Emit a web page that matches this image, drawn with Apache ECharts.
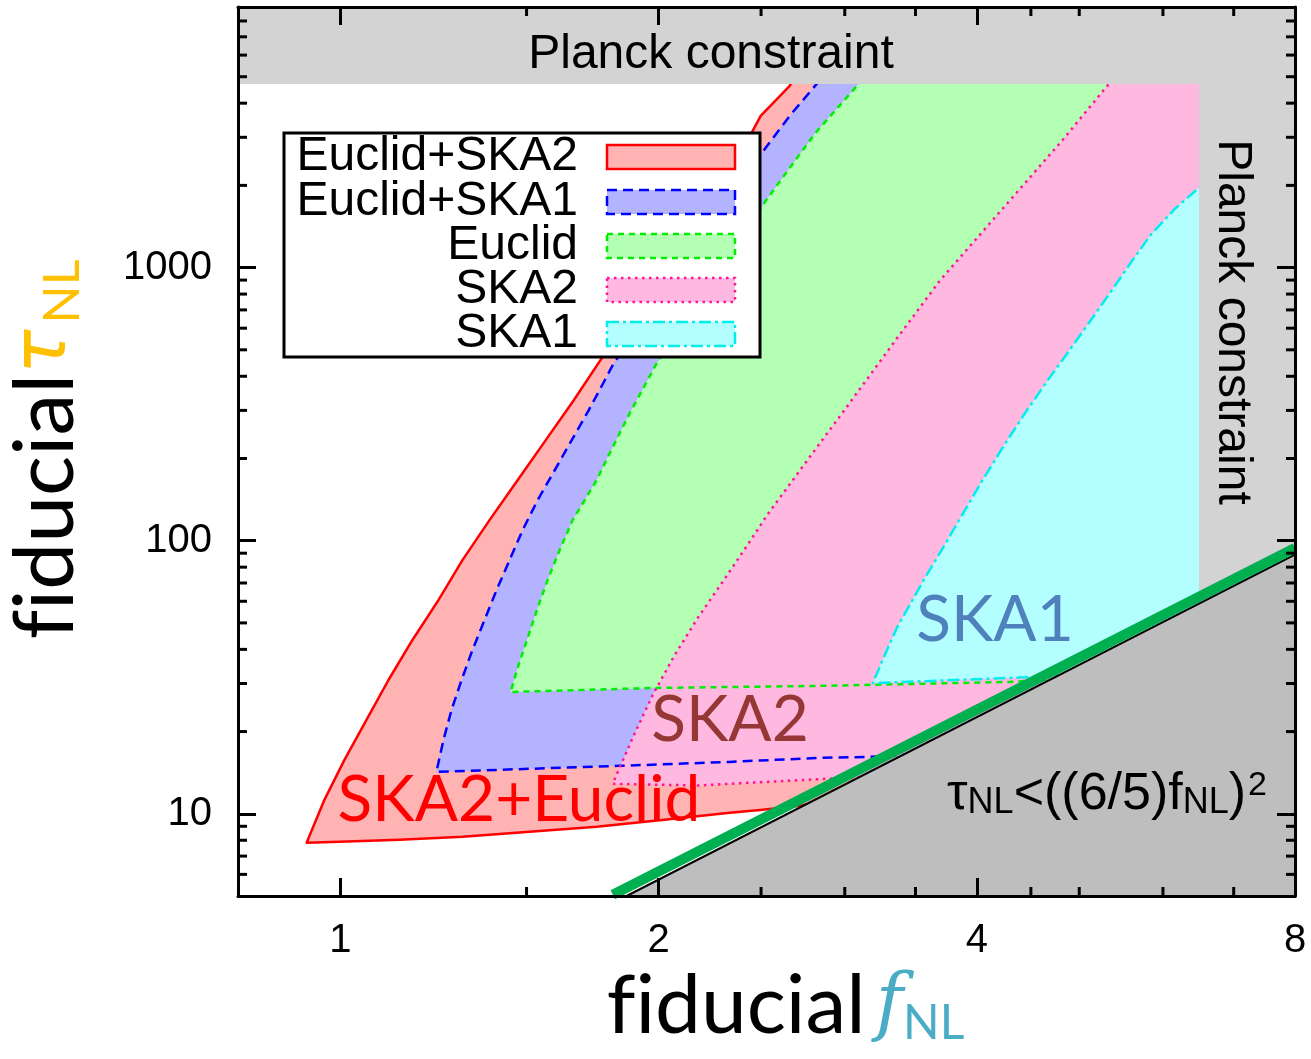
<!DOCTYPE html>
<html><head><meta charset="utf-8">
<script src="https://cdn.jsdelivr.net/npm/echarts@6/dist/echarts.min.js"></script>
<style>html,body{margin:0;padding:0;background:#fff}#c{width:1311px;height:1059px}</style>
</head><body><div id="c"></div>
<script>
// ---------- axis ticks ----------
const fnlMajorTicks = [1, 2, 4, 8];
const fnlMinorTicks = [1.5, 2.5, 3, 3.5, 4.5, 5, 6, 7];
const tauMajorTicks = [10, 100, 1000];
const tauMinorTicks = [6, 7, 8, 9, 20, 30, 40, 50, 60, 70, 80, 90, 200, 300, 400, 500, 600, 700, 800, 900, 2000, 3000, 4000, 5000, 6000, 7000, 8000];

// ---------- regions: [fNL, tauNL] boundary curves (bordered part) ----------
const seriesNames = ['Euclid+SKA2', 'Euclid+SKA1', 'Euclid', 'SKA2', 'SKA1'];
const euclidSka2Edge = [[3.0, 11.4], [2.72, 10.7], [2.509, 10.34], [2.335, 10.08], [2.026, 9.51], [1.747, 8.96], [1.51, 8.6],
  [1.305, 8.24], [1.137, 8.03], [0.998, 7.9], [0.929, 7.83],
  [0.9657, 11.25], [1.0088, 15.75], [1.0584, 22.06], [1.1103, 30.9], [1.1699, 43.3], [1.238, 60.6], [1.3045, 84.9],
  [1.3837, 118.9], [1.4709, 166.4], [1.5634, 233], [1.6618, 326], [1.7664, 465],
  [2.449, 3116], [2.498, 3596], [2.661, 4628], [2.75, 6000]];
const euclidSka1Edge = [[3.6, 16.6], [3.154, 16.16], [2.841, 16.03], [2.335, 15.49], [1.837, 14.98], [1.2326, 14.24],
  [1.2516, 18.65], [1.2737, 24.0], [1.3019, 30.9], [1.3333, 39.8], [1.3686, 51.2], [1.405, 65.9], [1.4454, 84.9],
  [1.4869, 109.2], [1.5364, 140.6], [1.5945, 181], [1.6545, 233], [1.7171, 300], [1.7781, 386], [1.8133, 446],
  [2.5255, 2748], [2.661, 3596], [2.8223, 4709], [2.9, 6000]];
const euclidEdge = [[5.0, 31.5], [4.298, 30.4], [2.841, 29.4], [1.991, 28.9], [1.4486, 27.93],
  [1.4742, 35.1], [1.5066, 45.1], [1.5398, 58.1], [1.5703, 71.7], [1.6118, 92.3], [1.6582, 118.9], [1.702, 140.6],
  [1.747, 166.4], [1.8093, 219.8], [1.8776, 292.6], [1.9358, 364], [1.9913, 446],
  [2.5255, 1758], [2.81, 3090], [3.093, 4709], [3.25, 6000]];
const ska2Edge = [[3.4, 13.8], [3.1, 13.6], [2.841, 13.4], [2.187, 12.7], [1.8093, 12.87],
  [1.8899, 18.96], [1.974, 27.2], [2.0711, 38.1], [2.1775, 52.1], [2.2945, 69.9], [2.4123, 93.1], [2.5365, 125],
  [2.786, 205], [3.0596, 335], [3.36, 550], [3.69, 896], [4.2153, 1616], [4.8147, 2913], [5.3337, 4709], [5.6, 6000]];
const ska1Edge = [[5.2, 33], [4.436, 31.6], [3.189, 30.1],
  [3.273, 38.1], [3.36, 47.9], [3.464, 59.1], [3.571, 72.9], [3.69, 90], [3.863, 121.9], [4.044, 165], [4.233, 219.8],
  [4.441, 292.6], [4.66, 383], [4.878, 489], [5.117, 635], [5.357, 817], [5.595, 1043], [5.844, 1320], [6.159, 1643],
  [6.49, 1961], [7.0, 2600]];
// closing points (hidden under the grey constraint areas)
const euclidSka2Close = [[8, 8000], [8, 11.4]];
const euclidSka1Close = [[8, 8000], [8, 16.6]];
const euclidClose = [[8, 8000], [8, 31.5]];
const ska2Close = [[8, 8000], [8, 13.8]];
const ska1Close = [[8, 2600], [8, 33]];

// ---------- constraints ----------
const planckTop = [[0.8, 4700], [8, 4700], [8, 9000], [0.8, 9000]];
const planckRight = [[6.49, 5], [8, 5], [8, 4700], [6.49, 4700]];
const consistencyBound = [[1.865, 5], [8, 89], [8, 5]];
const boundLine = [[1.865, 5], [8, 89]];
const greenLine = [[1.81, 5.05], [8, 94]];

const fillColors = ['#ffb3b3', '#b3b3ff', '#b3ffb3', '#ffb8df', '#b3ffff'];
const lineColors = ['#ff0000', '#0000ff', '#00ee00', '#ff1493', '#00eeee'];
const lineDashes = ['solid', [10, 6], [6, 5], [2.5, 4.5], [12, 4, 3, 4]];

const chart = echarts.init(document.getElementById('c'));

function fillSeries(name, pts, color, z) {
  return { type: 'custom', name: name, coordinateSystem: 'cartesian2d', silent: true, z: z, animation: false,
    data: [pts[0]],
    renderItem: function (p, api) {
      return { type: 'polygon', shape: { points: pts.map(function (q) { return api.coord(q); }) }, style: { fill: color } };
    } };
}
function lineSeries(pts, color, width, type, z) {
  return { type: 'line', data: pts, symbol: 'none', silent: true, animation: false, z: z, clip: true,
    lineStyle: { color: color, width: width, type: type, cap: 'butt', join: 'round' } };
}
function approxIn(v, arr) { return arr.some(function (a) { return Math.abs(v - a) / a < 1e-6; }); }

const edges = [euclidSka2Edge, euclidSka1Edge, euclidEdge, ska2Edge, ska1Edge];
const closes = [euclidSka2Close, euclidSka1Close, euclidClose, ska2Close, ska1Close];

const series = [];
edges.forEach(function (e, i) { series.push(fillSeries(seriesNames[i], e.concat(closes[i]), fillColors[i], 2)); });
edges.forEach(function (e, i) { series.push(lineSeries(e, lineColors[i], 2.5, lineDashes[i], 3)); });
series.push(fillSeries('planckTop', planckTop, '#d3d3d3', 4));
series.push(fillSeries('planckRight', planckRight, '#d3d3d3', 4));
series.push(fillSeries('bound', consistencyBound, '#bebebe', 4));
series.push(lineSeries(boundLine, '#000', 2, 'solid', 5));
series.push(lineSeries(greenLine, '#00b050', 10, 'solid', 6));
// minor ticks
series.push({ type: 'custom', coordinateSystem: 'cartesian2d', silent: true, z: 20, animation: false,
  data: fnlMinorTicks.map(function (v) { return [v, 10]; }),
  renderItem: function (p, api) {
    const cs = p.coordSys; const x = api.coord([api.value(0), 10])[0];
    return { type: 'group', children: [
      { type: 'line', shape: { x1: x, y1: cs.y + cs.height, x2: x, y2: cs.y + cs.height - 9 }, style: { stroke: '#000', lineWidth: 3 } },
      { type: 'line', shape: { x1: x, y1: cs.y, x2: x, y2: cs.y + 9 }, style: { stroke: '#000', lineWidth: 3 } }] };
  } });
series.push({ type: 'custom', coordinateSystem: 'cartesian2d', silent: true, z: 20, animation: false,
  data: tauMinorTicks.map(function (v) { return [1, v]; }),
  renderItem: function (p, api) {
    const cs = p.coordSys; const y = api.coord([1, api.value(1)])[1];
    return { type: 'group', children: [
      { type: 'line', shape: { x1: cs.x, y1: y, x2: cs.x + 9, y2: y }, style: { stroke: '#000', lineWidth: 3 } },
      { type: 'line', shape: { x1: cs.x + cs.width, y1: y, x2: cs.x + cs.width - 9, y2: y }, style: { stroke: '#000', lineWidth: 3 } }] };
  } });

const tickFont = 'Liberation Sans';
const axisCommon = {
  z: 20, splitLine: { show: false },
  axisLine: { show: true, onZero: false, lineStyle: { color: '#000', width: 3 } },
  axisTick: { show: true, inside: true, length: 18, lineStyle: { color: '#000', width: 3 } }
};

const option = {
  animation: false,
  backgroundColor: '#fff',
  grid: { left: 238, right: 16, top: 7, bottom: 163, containLabel: false, outerBoundsMode: 'none' },
  xAxis: [
    Object.assign({}, axisCommon, { type: 'log', logBase: 2, min: 0.8, max: 8, position: 'bottom',
      axisLabel: { margin: 25, fontSize: 40, fontFamily: tickFont, color: '#000',
        formatter: function (v) { return approxIn(v, fnlMajorTicks) ? String(Math.round(v)) : ''; } },
      name: '{a|f\u200Ciducial}{f|f}{s|NL}', nameLocation: 'middle', nameGap: 67,
      nameTextStyle: { padding: [0, 0, 0, 38], rich: {
        a: { fontFamily: 'Lato', fontSize: 82, color: '#000' },
        f: { fontFamily: 'DejaVu Serif', fontStyle: 'italic', fontSize: 74, color: '#4bacc6', padding: [0, 0, 0, 10] },
        s: { fontFamily: 'Lato', fontSize: 48, color: '#4bacc6', verticalAlign: 'bottom', lineHeight: 10 } } } }),
    Object.assign({}, axisCommon, { type: 'log', logBase: 2, min: 0.8, max: 8, position: 'top', axisLabel: { show: false } })
  ],
  yAxis: [
    Object.assign({}, axisCommon, { type: 'log', logBase: 10, min: 5, max: 9000, position: 'left',
      axisLabel: { margin: 26, fontSize: 40, fontFamily: tickFont, color: '#000',
        formatter: function (v) { return approxIn(v, tauMajorTicks) ? String(Math.round(v)) : ''; } },
      name: '{a|f\u200Ciducial}{t|τ}{s|NL}', nameLocation: 'middle', nameGap: 150,
      nameTextStyle: { padding: [0, 0, 0, 4], rich: {
        a: { fontFamily: 'Lato', fontSize: 84, color: '#000' },
        t: { fontFamily: 'DejaVu Sans', fontStyle: 'italic', fontSize: 74, color: '#ffc000' },
        s: { fontFamily: 'Lato', fontSize: 50, color: '#ffc000', verticalAlign: 'bottom', lineHeight: 6, padding: [0, 0, 0, 6] } } } }),
    Object.assign({}, axisCommon, { type: 'log', logBase: 10, min: 5, max: 9000, position: 'right', axisLabel: { show: false } })
  ],
  series: series,
  graphic: []
};

// annotations + legend
const g = option.graphic;
g.push({ type: 'text', z: 30, x: 711, y: 55, style: { text: 'Planck constraint', font: '48px "Liberation Sans"', fill: '#000', align: 'center', verticalAlign: 'middle' } });
g.push({ type: 'text', z: 30, x: 1232, y: 322, rotation: -Math.PI / 2, style: { text: 'Planck constraint', font: '48px "Liberation Sans"', fill: '#000', align: 'center', verticalAlign: 'middle' } });
g.push({ type: 'text', z: 30, x: 995, y: 620, style: { text: 'SKA1', font: '64px Lato', fill: '#4f81bd', align: 'center', verticalAlign: 'middle' } });
g.push({ type: 'text', z: 30, x: 730, y: 720, style: { text: 'SKA2', font: '64px Lato', fill: '#953735', align: 'center', verticalAlign: 'middle' } });
g.push({ type: 'text', z: 30, x: 519, y: 800, style: { text: 'SKA2+Euclid', font: '64px Lato', fill: '#ff0000', align: 'center', verticalAlign: 'middle' } });
g.push({ type: 'text', z: 30, x: 1107, y: 795, style: {
  text: '{a|τ}{s|NL}{a|<((6/5)f}{s|NL}{a|)}{p|2}', align: 'center', verticalAlign: 'middle',
  rich: {
    a: { fontFamily: 'Liberation Sans', fontSize: 52, fill: '#000' },
    s: { fontFamily: 'Liberation Sans', fontSize: 36, fill: '#000', verticalAlign: 'bottom', lineHeight: 2 },
    p: { fontFamily: 'Liberation Sans', fontSize: 34, fill: '#000', verticalAlign: 'top', lineHeight: 0, padding: [0, 0, 0, 2] } } } });
// legend
g.push({ type: 'rect', z: 40, shape: { x: 284, y: 133, width: 476, height: 224 }, style: { fill: '#fff', stroke: '#000', lineWidth: 3 } });
const legendRowY = [157, 202, 246, 290, 334];
seriesNames.forEach(function (n, i) {
  g.push({ type: 'text', z: 41, x: 578, y: legendRowY[i], style: { text: n, font: '48px "Liberation Sans"', fill: '#000', align: 'right', verticalAlign: 'middle' } });
  g.push({ type: 'rect', z: 41, shape: { x: 607, y: legendRowY[i] - 12, width: 128, height: 24 },
    style: { fill: fillColors[i], stroke: lineColors[i], lineWidth: 2.5, lineDash: lineDashes[i] === 'solid' ? null : lineDashes[i] } });
});

chart.setOption(option);
</script></body></html>
